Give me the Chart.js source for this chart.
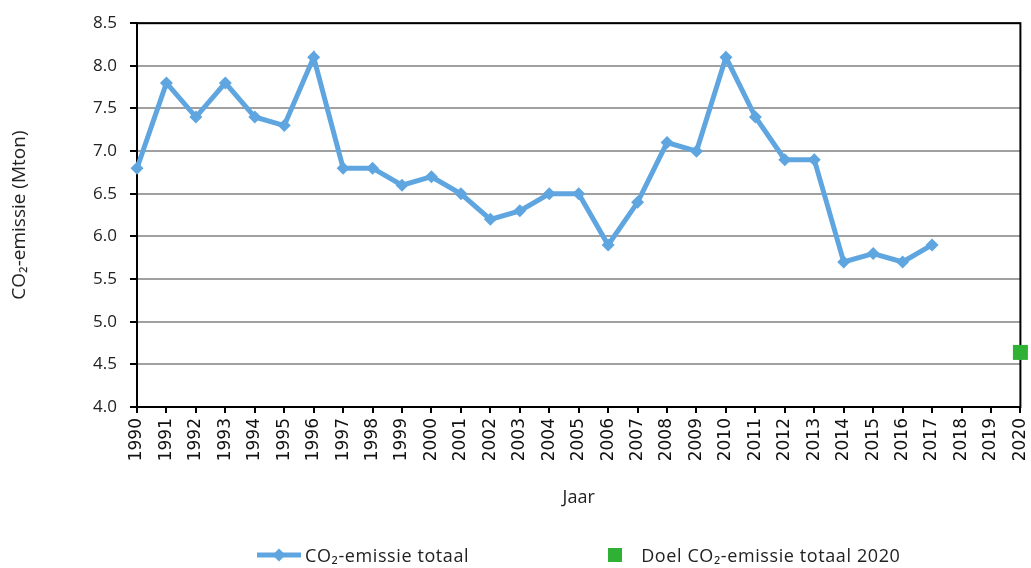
<!DOCTYPE html>
<html>
<head>
<meta charset="utf-8">
<script src="https://cdn.jsdelivr.net/npm/chart.js@4.4.1/dist/chart.umd.min.js"></script>
<style>
    html, body { margin: 0; padding: 0; background: #fff; }
    #wrap { position: relative; width: 1031px; height: 568px; }
    #legend {
        position: absolute; top: 543px; left: 257px;
        display: flex; align-items: center;
        font-family: 'Open Sans', Lato, sans-serif; font-size: 18px; letter-spacing: 0.6px; color: #222;
    }
    #legend .item { display: flex; align-items: center; }
    #legend svg { display: block; }
</style>
</head>
<body>
<div id="wrap">
    <canvas id="chart" width="1031" height="568"></canvas>
    <div id="legend"></div>
</div>
<script>
const years = [];
for (let y = 1990; y <= 2020; y++) years.push(String(y));

// CO2-emissie totaal (Mton), 1990-2017
const emissions = [6.8, 7.8, 7.4, 7.8, 7.4, 7.3, 8.1, 6.8, 6.8, 6.6,
                   6.7, 6.5, 6.2, 6.3, 6.5, 6.5, 5.9, 6.4, 7.1, 7.0,
                   8.1, 7.4, 6.9, 6.9, 5.7, 5.8, 5.7, 5.9];

// doel 2020
const targetYear = '2020';
const targetValue = 4.64;
const targetSeries = years.map(y => (y === targetYear ? targetValue : null));

const yTicks = [4.0, 4.5, 5.0, 5.5, 6.0, 6.5, 7.0, 7.5, 8.0, 8.5];

const BLUE = '#5FA6E0';
const GREEN = '#2FB135';
const LABEL_FONT = "'Open Sans', Lato, sans-serif";

// kader rond het plotgebied
const plotBorder = {
    id: 'plotBorder',
    beforeDatasetsDraw(chart) {
        const { ctx, chartArea: a } = chart;
        ctx.save();
        ctx.strokeStyle = '#000';
        ctx.lineWidth = 2;
        ctx.strokeRect(a.left, a.top, a.right - a.left, a.bottom - a.top);
        ctx.restore();
    }
};

new Chart(document.getElementById('chart'), {
    type: 'line',
    data: {
        labels: years,
        datasets: [{
            label: 'CO₂-emissie totaal',
            data: emissions,
            borderColor: BLUE,
            backgroundColor: BLUE,
            borderWidth: 5,
            tension: 0,
            pointStyle: 'rectRot',
            pointRadius: 6.5,
            pointHoverRadius: 6.5,
            pointBorderWidth: 0
        }, {
            label: 'Doel CO₂-emissie totaal 2020',
            data: targetSeries,
            showLine: false,
            borderColor: GREEN,
            backgroundColor: GREEN,
            pointStyle: 'rect',
            pointRadius: 10.6,
            pointHoverRadius: 10.6,
            pointBorderWidth: 0,
            clip: false
        }]
    },
    options: {
        responsive: false,
        animation: false,
        layout: { padding: { top: 23, right: 10, bottom: 0, left: 0 } },
        plugins: {
            legend: { display: false },
            tooltip: { enabled: false }
        },
        scales: {
            x: {
                offset: false,
                grid: { drawOnChartArea: false, color: '#000', tickLength: 6, lineWidth: 2 },
                border: { color: '#000', width: 2 },
                ticks: {
                    autoSkip: false,
                    minRotation: 90,
                    maxRotation: 90,
                    padding: 5,
                    color: '#111',
                    font: { family: "'DejaVu Sans', sans-serif", size: 17 }
                },
                title: {
                    display: true,
                    text: 'Jaar',
                    color: '#222',
                    font: { family: LABEL_FONT, size: 18 },
                    padding: { top: 0, bottom: 59 }
                },
                afterFit(scale) {
                    scale.height = 161;
                    scale.paddingLeft = 0;
                    scale.paddingRight = 0;
                }
            },
            y: {
                min: 4,
                max: 8.5,
                afterBuildTicks(scale) { scale.ticks = yTicks.map(v => ({ value: v })); },
                grid: { color: '#a0a0a0', lineWidth: 2, tickColor: '#000', tickLength: 7 },
                border: { color: '#000', width: 2 },
                ticks: {
                    padding: 13,
                    color: '#222',
                    font: { family: LABEL_FONT, size: 17 },
                    callback: v => Number(v).toFixed(1)
                },
                title: {
                    display: true,
                    text: 'CO₂-emissie (Mton)',
                    color: '#222',
                    font: { family: LABEL_FONT, size: 19 },
                    padding: { top: 8, bottom: 0 }
                },
                afterFit(scale) { scale.width = 137; }
            }
        }
    },
    plugins: [plotBorder]
});

// legenda onder de grafiek
document.getElementById('legend').innerHTML = `
    <div class="item">
        <svg width="44" height="14"><line x1="0" y1="7" x2="44" y2="7" stroke="${BLUE}" stroke-width="5"/>
        <polygon points="22,0.5 28.5,7 22,13.5 15.5,7" fill="${BLUE}"/></svg>
        <span style="margin-left:4px">CO₂-emissie totaal</span>
    </div>
    <div class="item" style="margin-left:139px">
        <svg width="14" height="14"><rect x="0" y="0" width="14" height="14" fill="${GREEN}"/></svg>
        <span style="margin-left:19px">Doel CO₂-emissie totaal 2020</span>
    </div>
`;
</script>
</body>
</html>
